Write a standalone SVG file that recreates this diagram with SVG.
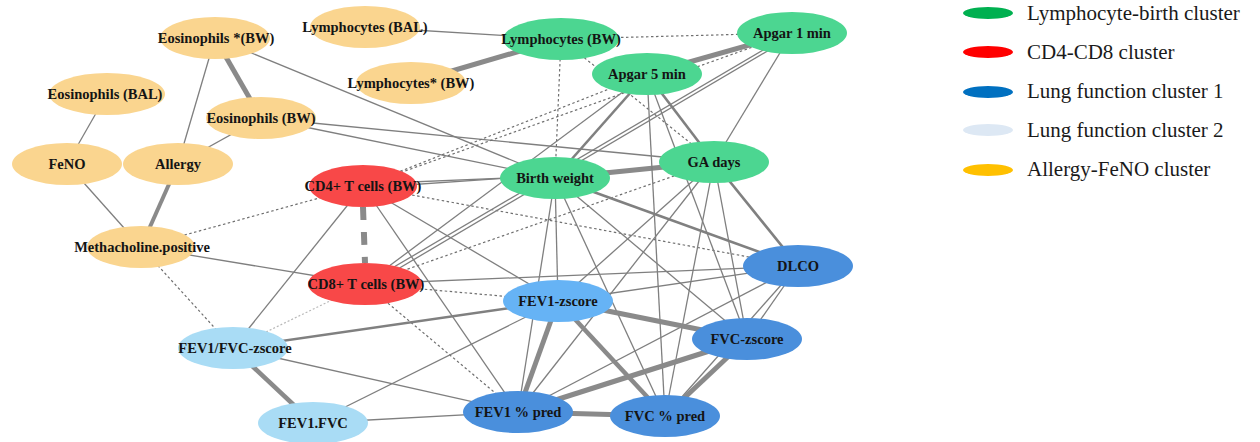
<svg xmlns="http://www.w3.org/2000/svg" width="1260" height="442" viewBox="0 0 1260 442">
<style>
.t{stroke:#7f7f7f;stroke-width:1.3;fill:none}
.m{stroke:#808080;stroke-width:2.6;fill:none}
.k{stroke:#8a8a8a;stroke-width:5;fill:none}
.d{stroke:#6f6f6f;stroke-width:1.2;stroke-dasharray:2.5 2.5;fill:none}
.l{stroke:#b8b8b8;stroke-width:1.2;stroke-dasharray:2 2;fill:none}
.D{stroke:#8a8a8a;stroke-width:6;stroke-dasharray:13 12;fill:none}
.o{fill:#fad58f}.g{fill:#4cd691}.r{fill:#f84848}.b{fill:#4a8fdc}.b2{fill:#66b3f5}.b3{fill:#a9dcf5}
.n text{font-family:"Liberation Serif","Times New Roman",serif;font-weight:bold;font-size:14.5px;fill:#141414;text-anchor:middle}
.lg text{font-family:"Liberation Serif","Times New Roman",serif;font-size:21px;fill:#1a1a1a}
</style>
<rect width="1260" height="442" fill="#ffffff"/>
<g id="connectors">
<line class="k" x1="215" y1="38" x2="261" y2="118"/>
<line class="t" x1="215" y1="38" x2="178" y2="164"/>
<line class="t" x1="215" y1="38" x2="555" y2="178"/>
<line class="t" x1="261" y1="118" x2="178" y2="164"/>
<line class="t" x1="261" y1="118" x2="714" y2="162"/>
<line class="t" x1="261" y1="118" x2="555" y2="178"/>
<line class="t" x1="107" y1="94" x2="67" y2="164"/>
<line class="t" x1="67" y1="164" x2="141" y2="247"/>
<line class="k" x1="178" y1="164" x2="141" y2="247" style="stroke-width:4"/>
<line class="t" x1="365" y1="27" x2="561" y2="39"/>
<line class="k" x1="411" y1="83" x2="561" y2="39"/>
<line class="d" x1="141" y1="247" x2="363" y2="186"/>
<line class="t" x1="141" y1="247" x2="365" y2="284"/>
<line class="d" x1="141" y1="247" x2="233" y2="348"/>
<line class="D" x1="363" y1="207" x2="365" y2="263"/>
<line class="t" x1="363" y1="186" x2="233" y2="348"/>
<line class="l" x1="365" y1="284" x2="233" y2="348"/>
<line class="d" x1="365" y1="284" x2="518" y2="412"/>
<line class="d" x1="365" y1="284" x2="558" y2="301"/>
<line class="t" x1="365" y1="284" x2="798" y2="266"/>
<line class="t" x1="363" y1="184" x2="555" y2="176"/>
<line class="t" x1="363" y1="188" x2="714" y2="164"/>
<line class="d" x1="363" y1="186" x2="792" y2="33"/>
<line class="d" x1="363" y1="186" x2="647" y2="74"/>
<line class="d" x1="363" y1="186" x2="798" y2="266"/>
<line class="t" x1="363" y1="186" x2="558" y2="301"/>
<line class="t" x1="363" y1="186" x2="518" y2="412"/>
<line class="d" x1="561" y1="39" x2="792" y2="33"/>
<line class="d" x1="561" y1="39" x2="555" y2="178"/>
<line class="d" x1="561" y1="39" x2="714" y2="162"/>
<line class="k" x1="647" y1="74" x2="792" y2="33"/>
<line class="m" x1="647" y1="74" x2="714" y2="162"/>
<line class="m" x1="647" y1="74" x2="555" y2="178"/>
<line class="t" x1="647" y1="74" x2="365" y2="284"/>
<line class="t" x1="792" y1="33" x2="365" y2="284"/>
<line class="t" x1="798" y1="33" x2="369" y2="286"/>
<line class="t" x1="792" y1="33" x2="714" y2="162"/>
<line class="d" x1="365" y1="284" x2="714" y2="162"/>
<line class="k" x1="555" y1="178" x2="714" y2="162"/>
<line class="m" x1="555" y1="178" x2="798" y2="266"/>
<line class="t" x1="555" y1="178" x2="558" y2="301"/>
<line class="t" x1="555" y1="178" x2="518" y2="412"/>
<line class="t" x1="555" y1="178" x2="665" y2="416"/>
<line class="t" x1="555" y1="178" x2="747" y2="339"/>
<line class="m" x1="714" y1="162" x2="798" y2="266"/>
<line class="t" x1="714" y1="162" x2="518" y2="412"/>
<line class="t" x1="714" y1="162" x2="558" y2="301"/>
<line class="t" x1="714" y1="162" x2="665" y2="416"/>
<line class="t" x1="714" y1="162" x2="747" y2="339"/>
<line class="t" x1="647" y1="74" x2="665" y2="416"/>
<line class="t" x1="647" y1="74" x2="747" y2="339"/>
<line class="t" x1="798" y1="266" x2="558" y2="301"/>
<line class="t" x1="798" y1="266" x2="518" y2="412"/>
<line class="t" x1="798" y1="266" x2="665" y2="416"/>
<line class="t" x1="798" y1="266" x2="747" y2="339"/>
<line class="k" x1="558" y1="301" x2="747" y2="339"/>
<line class="k" x1="558" y1="301" x2="518" y2="412"/>
<line class="k" x1="558" y1="301" x2="665" y2="416" style="stroke-width:4.5"/>
<line class="m" x1="558" y1="301" x2="233" y2="348"/>
<line class="t" x1="558" y1="301" x2="313" y2="423"/>
<line class="k" x1="747" y1="339" x2="518" y2="412"/>
<line class="k" x1="747" y1="339" x2="665" y2="416"/>
<line class="k" x1="518" y1="412" x2="665" y2="416"/>
<line class="t" x1="518" y1="412" x2="233" y2="348"/>
<line class="t" x1="518" y1="412" x2="313" y2="423"/>
<line class="k" x1="233" y1="348" x2="313" y2="423" style="stroke-width:4.5"/>
</g>
<g id="node-eos-star-bw" class="n"><ellipse class="o" cx="215" cy="38" rx="55" ry="21"/><text x="216" y="43">Eosinophils *(BW)</text></g>
<g id="node-lym-bal" class="n"><ellipse class="o" cx="365" cy="27" rx="55" ry="21"/><text x="365" y="32">Lymphocytes (BAL)</text></g>
<g id="node-eos-bal" class="n"><ellipse class="o" cx="107" cy="94" rx="58" ry="21"/><text x="105" y="99">Eosinophils (BAL)</text></g>
<g id="node-eos-bw" class="n"><ellipse class="o" cx="261" cy="118" rx="55" ry="21"/><text x="261" y="123">Eosinophils (BW)</text></g>
<g id="node-lym-star-bw" class="n"><ellipse class="o" cx="411" cy="83" rx="55" ry="21"/><text x="411" y="88">Lymphocytes* (BW)</text></g>
<g id="node-feno" class="n"><ellipse class="o" cx="67" cy="164" rx="55" ry="21"/><text x="67" y="169">FeNO</text></g>
<g id="node-allergy" class="n"><ellipse class="o" cx="178" cy="164" rx="55" ry="21"/><text x="178" y="169">Allergy</text></g>
<g id="node-methacholine" class="n"><ellipse class="o" cx="141" cy="247" rx="54" ry="21"/><text x="142" y="252">Methacholine.positive</text></g>
<g id="node-lym-bw" class="n"><ellipse class="g" cx="561" cy="39" rx="58" ry="21"/><text x="561" y="44">Lymphocytes (BW)</text></g>
<g id="node-apgar1" class="n"><ellipse class="g" cx="792" cy="33" rx="55" ry="21"/><text x="792" y="38">Apgar 1 min</text></g>
<g id="node-apgar5" class="n"><ellipse class="g" cx="647" cy="74" rx="55" ry="21"/><text x="647" y="79">Apgar 5 min</text></g>
<g id="node-birth-weight" class="n"><ellipse class="g" cx="555" cy="178" rx="55" ry="21"/><text x="555" y="183">Birth weight</text></g>
<g id="node-ga-days" class="n"><ellipse class="g" cx="714" cy="162" rx="55" ry="21"/><text x="714" y="167">GA days</text></g>
<g id="node-cd4" class="n"><ellipse class="r" cx="363" cy="186" rx="54" ry="21"/><text x="363" y="191">CD4+ T cells (BW)</text></g>
<g id="node-cd8" class="n"><ellipse class="r" cx="365" cy="284" rx="57" ry="21"/><text x="366" y="289">CD8+ T cells (BW)</text></g>
<g id="node-dlco" class="n"><ellipse class="b" cx="798" cy="266" rx="55" ry="21"/><text x="798" y="271">DLCO</text></g>
<g id="node-fev1-zscore" class="n"><ellipse class="b2" cx="558" cy="301" rx="55" ry="21"/><text x="558" y="306">FEV1-zscore</text></g>
<g id="node-fvc-zscore" class="n"><ellipse class="b" cx="747" cy="339" rx="55" ry="21"/><text x="747" y="344">FVC-zscore</text></g>
<g id="node-fev1-pred" class="n"><ellipse class="b" cx="518" cy="412" rx="55" ry="21"/><text x="518" y="417">FEV1 % pred</text></g>
<g id="node-fvc-pred" class="n"><ellipse class="b" cx="665" cy="416" rx="55" ry="21"/><text x="665" y="421">FVC % pred</text></g>
<g id="node-fev1fvc-zscore" class="n"><ellipse class="b3" cx="233" cy="348" rx="55" ry="21"/><text x="235" y="353">FEV1/FVC-zscore</text></g>
<g id="node-fev1fvc" class="n"><ellipse class="b3" cx="313" cy="423" rx="55" ry="21"/><text x="313" y="428">FEV1.FVC</text></g>
<g id="legend" class="lg">
<ellipse cx="988" cy="13" rx="25" ry="6" fill="#00b050"/><text x="1027" y="20">Lymphocyte-birth cluster</text>
<ellipse cx="988" cy="52" rx="25" ry="6" fill="#ff0000"/><text x="1027" y="59">CD4-CD8 cluster</text>
<ellipse cx="988" cy="92" rx="25" ry="6" fill="#0070c0"/><text x="1027" y="98">Lung function cluster 1</text>
<ellipse cx="988" cy="130" rx="25" ry="6" fill="#dde8f4"/><text x="1027" y="137">Lung function cluster 2</text>
<ellipse cx="988" cy="170" rx="25" ry="6" fill="#ffc000"/><text x="1027" y="176">Allergy-FeNO cluster</text>
</g>
</svg>
